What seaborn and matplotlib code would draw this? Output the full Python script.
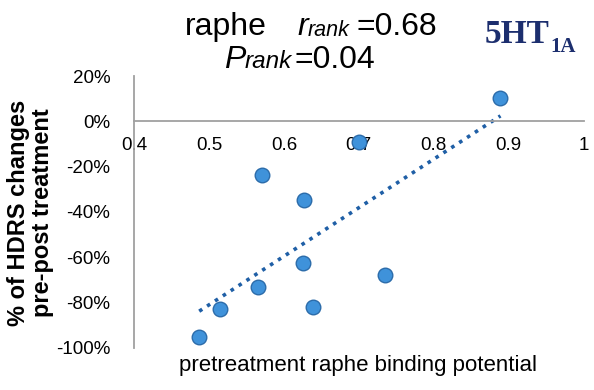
import numpy as np
import pandas as pd
import seaborn as sns
import matplotlib.pyplot as plt
from matplotlib.ticker import PercentFormatter

# pretreatment raphe binding potential vs % HDRS change
binding = [0.487, 0.515, 0.565, 0.571, 0.625, 0.627, 0.639, 0.700, 0.735, 0.889]
hdrs_change = [-0.95, -0.83, -0.73, -0.235, -0.625, -0.345, -0.82, -0.09, -0.68, 0.105]
xticks = [0.4, 0.5, 0.6, 0.7, 0.8, 0.9, 1]
yticks = [0.2, 0, -0.2, -0.4, -0.6, -0.8, -1.0]

df = pd.DataFrame({"bp": binding, "hdrs": hdrs_change})

sns.set_style("white")
plt.rcParams['font.family'] = ['Liberation Sans', 'DejaVu Sans']
plt.rcParams['axes.unicode_minus'] = False
plt.rcParams['text.color'] = 'black'
plt.rcParams['xtick.color'] = 'black'
plt.rcParams['ytick.color'] = 'black'

W, H = 594, 390
fig = plt.figure(figsize=(W / 100, H / 100), dpi=100)
ax = fig.add_axes([0.2256, 0.108, 0.757, 0.697])

sns.regplot(data=df, x="bp", y="hdrs", ax=ax, ci=None,
            scatter_kws=dict(s=110, color="#3F92DA", edgecolor="#2C6CAA", linewidths=1, alpha=1, zorder=3),
            line_kws=dict(color="#1F5FA6", linestyle=(0, (1, 1.6)), linewidth=2.6, zorder=2))

ax.set_xlim(0.4, 1.0)
ax.set_ylim(-1.0, 0.2)
ax.set_xticks(xticks)
ax.set_xticklabels([str(t) for t in xticks])
ax.set_yticks(yticks)
ax.yaxis.set_major_formatter(PercentFormatter(1.0, decimals=0))

for s in ["top", "right"]:
    ax.spines[s].set_visible(False)
ax.spines["bottom"].set_position(("data", 0))
ax.spines["bottom"].set_color("#A0A0A0")
ax.spines["left"].set_color("#A0A0A0")
ax.spines["bottom"].set_linewidth(1.3)
ax.spines["left"].set_linewidth(1.3)
ax.tick_params(axis="x", direction="out", length=5, color="#A0A0A0", width=1.2,
               labelsize=13.5, pad=6)
ax.tick_params(axis="y", length=0, labelsize=13.5, pad=17)

ax.set_xlabel("")
ax.set_ylabel("")
fig.text(0.603, 0.062, "pretreatment raphe binding potential", ha="center", va="center", fontsize=16)
fig.text(0.052, 0.454, "% of HDRS changes\npre-post treatment", ha="center", va="center",
         rotation=90, fontsize=17, fontweight="bold", linespacing=1.05)


def px_text(x, y, s, **kw):
    # place text by pixel position (x from left, baseline y from top)
    fig.text(x / W, 1 - y / H, s, ha="left", va="baseline", **kw)


# title pieces
px_text(185, 35, "raphe", fontsize=23)
px_text(297, 35, "r", fontsize=23, style="italic")
px_text(308, 36, "rank", fontsize=15.5, style="italic")
px_text(357, 35, "=0.68", fontsize=23)
px_text(224, 68, "P", fontsize=23, style="italic")
px_text(245, 68, "rank", fontsize=17.5, style="italic")
px_text(294, 68, "=0.04", fontsize=23)

px_text(485, 43, "5HT", fontsize=24, fontweight="bold", family=["Liberation Serif"], color="#1C2E6E")
px_text(550, 52, "1A", fontsize=15, fontweight="bold", family=["Liberation Serif"], color="#1C2E6E")

plt.savefig("out.png", dpi=100)
